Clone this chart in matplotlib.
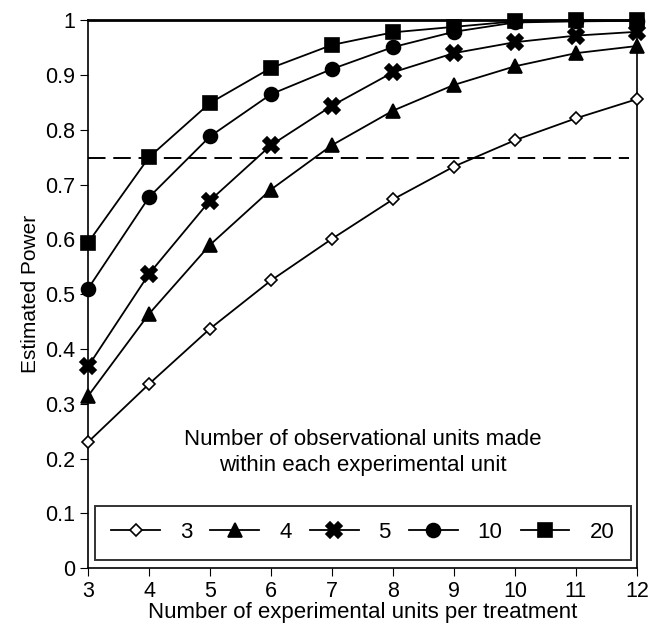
import matplotlib.pyplot as plt

plt.rcParams['font.family'] = ['Liberation Sans', 'DejaVu Sans']

units = [3, 4, 5, 6, 7, 8, 9, 10, 11, 12]
power_3 = [0.230, 0.336, 0.437, 0.525, 0.601, 0.673, 0.733, 0.781, 0.821, 0.856]
power_4 = [0.314, 0.464, 0.590, 0.691, 0.772, 0.835, 0.882, 0.916, 0.940, 0.953]
power_5 = [0.368, 0.537, 0.671, 0.772, 0.844, 0.905, 0.940, 0.960, 0.972, 0.979]
power_10 = [0.510, 0.677, 0.788, 0.865, 0.911, 0.951, 0.979, 0.996, 0.998, 0.999]
power_20 = [0.594, 0.750, 0.849, 0.913, 0.955, 0.978, 0.988, 0.998, 1.0, 1.0]
target_power = 0.748

series = [
    ('3', power_3, 'D', 'white', 6),
    ('4', power_4, '^', 'black', 10),
    ('5', power_5, 'X', 'black', 11),
    ('10', power_10, 'o', 'black', 10),
    ('20', power_20, 's', 'black', 10),
]

fig = plt.figure(figsize=(6.62, 6.34), dpi=100)
ax = fig.add_axes([0.133, 0.104, 0.829, 0.864])

for label, vals, mk, fc, ms in series:
    ax.plot(units, vals, color='black', lw=1.3, marker=mk, markersize=ms,
            markerfacecolor=fc, markeredgecolor='black', markeredgewidth=1.2,
            label=label, clip_on=False, zorder=3)

ax.axhline(target_power, xmax=0.985, color='black', lw=1.4, dashes=(9, 4))

ax.set_xlim(3, 12)
ax.set_ylim(0, 1)
ax.set_xticks(units)
ax.set_yticks([0, 0.1, 0.2, 0.3, 0.4, 0.5, 0.6, 0.7, 0.8, 0.9, 1])
ax.set_yticklabels(['0', '0.1', '0.2', '0.3', '0.4', '0.5', '0.6', '0.7', '0.8', '0.9', '1'])
ax.tick_params(labelsize=15.5, length=6, width=0.8, direction='out', pad=3)
for side in ['left', 'bottom', 'right']:
    ax.spines[side].set_linewidth(1.2)
ax.spines['top'].set_linewidth(2)

ax.set_xlabel('Number of experimental units per treatment', fontsize=16, labelpad=0)
ax.set_ylabel('Estimated Power', fontsize=15, labelpad=4)

ax.text(0.5, 0.211, 'Number of observational units made\nwithin each experimental unit',
        transform=ax.transAxes, ha='center', va='center', fontsize=16, linespacing=1.3)

leg = ax.legend(loc='lower left', bbox_to_anchor=(0.012, 0.015, 0.977, 0.123),
                mode='expand', ncol=5, fontsize=16, handlelength=2.2,
                frameon=True, fancybox=False, borderaxespad=0, handletextpad=0.9,
                columnspacing=1.0, borderpad=0.75)
leg.get_frame().set_edgecolor('black')
leg.get_frame().set_linewidth(1.4)

fig.savefig('out.png', dpi=100)
